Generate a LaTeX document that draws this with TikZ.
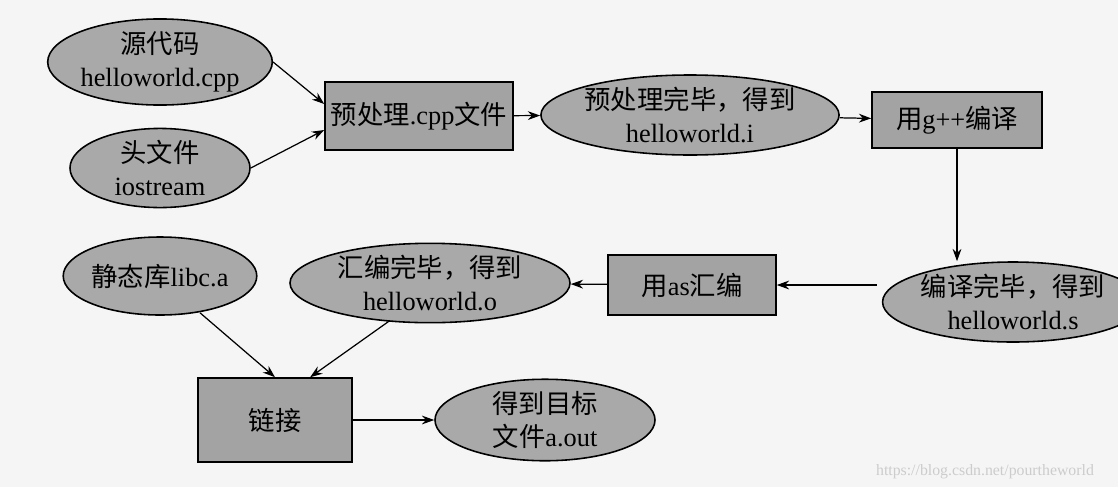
\documentclass[tikz,border=0pt]{standalone}
\usepackage{fontspec}
\setmainfont{Liberation Serif}
\newfontfamily\cjk{Noto Sans CJK SC}
\usetikzlibrary{shapes.geometric,arrows.meta}
\definecolor{ellfill}{HTML}{A9A9A9}
\definecolor{boxfill}{HTML}{A3A3A3}
\begin{document}
\begin{tikzpicture}[x=0.02cm,y=-0.02cm,
  ell/.style={ellipse,draw,line width=0.9pt,fill=ellfill,inner sep=0pt,align=center,font=\fontsize{15}{19}\selectfont},
  box/.style={rectangle,draw,line width=0.9pt,fill=boxfill,inner sep=0pt,align=center,font=\fontsize{15}{19}\selectfont},
  arr/.style={-{Stealth[length=7pt,width=5pt]},line width=0.7pt}]
\fill[white!92!gray] (0,0) rectangle (1118,487);
\useasboundingbox (0,0) rectangle (1118,487);
\node[ell,minimum width=180*0.02cm,minimum height=80*0.02cm] (e1) at (160,62) {{\cjk 源代码}\\helloworld.cpp};
\node[ell,minimum width=180*0.02cm,minimum height=76*0.02cm] (e2) at (160,168) {{\cjk 头文件}\\iostream};
\node[box,minimum width=188*0.02cm,minimum height=68*0.02cm] (r1) at (419,116) {{\cjk 预处理}.cpp{\cjk 文件}};
\node[ell,minimum width=284*0.02cm,minimum height=80*0.02cm] (e3) at (690,115) {{\cjk 预处理完毕，得到}\\helloworld.i};
\node[box,minimum width=170*0.02cm,minimum height=56*0.02cm] (r2) at (957,120) {{\cjk 用}g++{\cjk 编译}};
\node[ell,minimum width=190*0.02cm,minimum height=80*0.02cm] (e4) at (1013,302) {{\cjk 编译完毕，得到}\\helloworld.s};
\node[box,minimum width=168*0.02cm,minimum height=60*0.02cm] (r3) at (692,285) {{\cjk 用}as{\cjk 汇编}};
\node[ell,minimum width=280*0.02cm,minimum height=78*0.02cm] (e5) at (430,283) {{\cjk 汇编完毕，得到}\\helloworld.o};
\node[ell,minimum width=184*0.02cm,minimum height=78*0.02cm] (e6) at (160,276) {{\cjk 静态库}libc.a};
\node[box,minimum width=154*0.02cm,minimum height=84*0.02cm] (r4) at (275,420) {\cjk 链接};
\node[ell,minimum width=220*0.02cm,minimum height=80*0.02cm] (e7) at (545,420) {{\cjk 得到目标}\\{\cjk 文件}a.out};
\draw[arr] (e1.east) -- (r1.west|-0,104);
\draw[arr] (e2.east) -- (r1.west|-0,130);
\draw[arr] (r1) -- (e3);
\draw[arr] (e3) -- (r2);
\draw[arr] (r2.south) -- (r2.south|-e4.north);
\draw[arr] (e4.west|-r3.east) ++(-5,0) -- (r3.east);
\draw[arr] (r3) -- (e5);
\draw[arr] (e5.south) ++(-40,-3) -- ([xshift=20]r4.north);
\draw[arr] (e6.south) ++(40,-3) -- (r4.north);
\draw[arr] (r4) -- (e7);
\node[text=gray!40,font=\fontsize{9}{10}\selectfont] (wm) at (985,472) {https://blog.csdn.net/pourtheworld};
\end{tikzpicture}
\end{document}
